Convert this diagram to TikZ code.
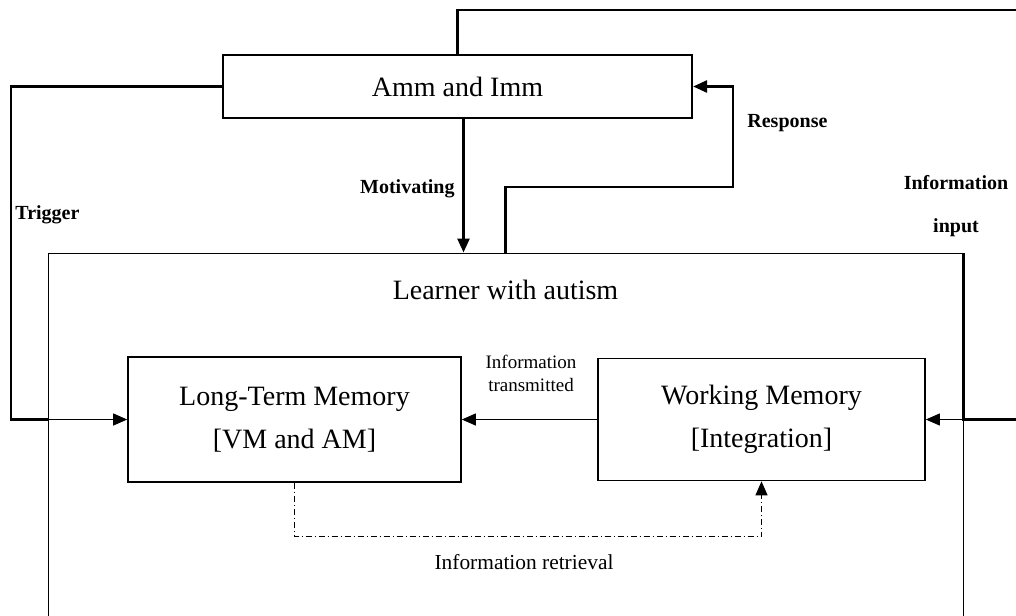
\documentclass[tikz,border=0pt]{standalone}
\usepackage{fontspec}
\setmainfont{Liberation Serif}
\usetikzlibrary{arrows.meta}

\begin{document}
\begin{tikzpicture}[x=0.5pt,y=0.5pt]
\tikzstyle{every node}+=[inner sep=0pt]
\tikzstyle{membox}=[draw=black, line width=0.8pt, font=\fontsize{14}{21.5}\selectfont, align=center]
\tikzstyle{heavy}=[draw=black, line width=1.3pt]
\tikzstyle{tip}=[-{Triangle[length=7pt,width=6pt]}]
\tikzstyle{wire}=[draw=black, line width=0.5pt, tip]
\tikzstyle{retrieve}=[wire, dash pattern=on 3pt off 1.5pt on 0.5pt off 1.5pt]
\tikzstyle{tag}=[font=\fontsize{10}{21.5}\selectfont\bfseries, align=center]
\useasboundingbox (0,0) rectangle (1016,-615);
\clip (0,0) rectangle (1016,-615);
\node [membox, line width=1.1pt, minimum width=234.5pt, minimum height=31.5pt] (amm) at (457.5,-86.5) {Amm and Imm};
\node [draw=black, line width=0.5pt, minimum width=457.5pt, minimum height=203.5pt] (learner) at (505.5,-456.5) {};
\node [font=\fontsize{14}{21.5}\selectfont] (learnername) at (505.5,-290) {Learner with autism};
\node [membox, minimum width=166.5pt, minimum height=62.5pt] (ltm) at (294.5,-419.5) {Long-Term Memory\\{}[VM and AM]};
\node [membox, minimum width=163.5pt, minimum height=61pt] (wm) at (761.5,-419.5) {Working Memory\\{}[Integration]};
\coordinate (feed) at (1030,-10);
\coordinate (trigger) at (11,-419.5);
\coordinate (input) at (1030,-419.5);
\coordinate (resp) at (733,-187);
\draw [heavy] (amm.north) |- (feed);
\draw [heavy] (amm.west) -| (trigger) -- (learner.west |- trigger);
\draw [wire] (learner.west |- trigger) -- (ltm.west);
\draw [heavy] (input) -- (learner.east |- input) -- (learner.north east);
\draw [wire] (learner.east |- input) -- (wm.east);
\draw [heavy, tip] ([xshift=3pt]amm.south) -- ([xshift=3pt]amm.south |- learner.north);
\draw [heavy, tip] (learner.north) |- (resp) |- (amm.east);
\draw [wire] (wm.west) -- (ltm.east);
\draw [retrieve] (ltm.south) -- ++(0,-54) -| (wm.south);
\node [tag, anchor=west] (triggertag) at (15,-215) {Trigger};
\node [tag, anchor=east] (motivtag) at (455,-189) {Motivating};
\node [tag, anchor=west] (resptag) at (747,-123) {Response};
\node [tag] (inputtag) at (956,-206.5) {Information\\input};
\node [font=\fontsize{9.5}{11.5}\selectfont, align=center] (sendtag) at (531,-373.5) {Information\\transmitted};
\node [font=\fontsize{10.7}{13}\selectfont] (fetchtag) at (524,-562) {Information retrieval};
\end{tikzpicture}
\end{document}
